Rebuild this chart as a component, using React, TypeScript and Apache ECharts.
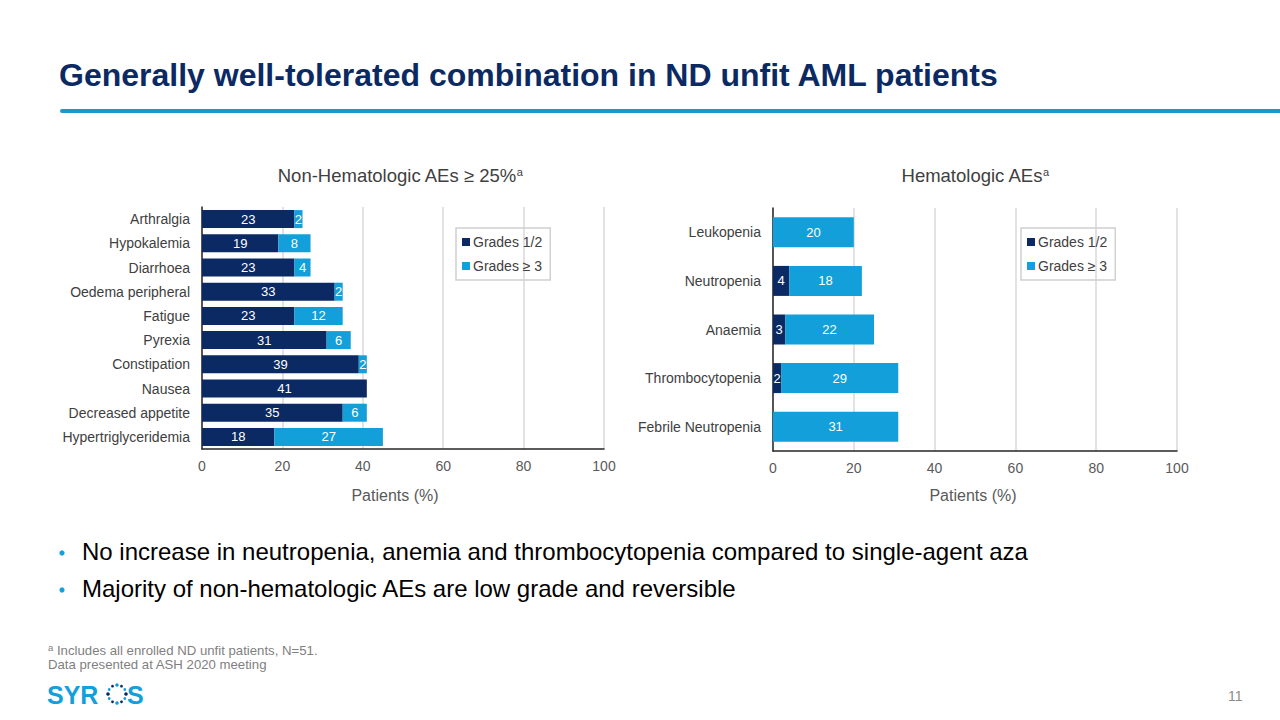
import React, { useEffect, useRef } from "react";
import * as echarts from "echarts";

const NAVY = "#0b2a63";
const BLUE = "#139fd9";

const nonHemCategories = [
  "Arthralgia",
  "Hypokalemia",
  "Diarrhoea",
  "Oedema peripheral",
  "Fatigue",
  "Pyrexia",
  "Constipation",
  "Nausea",
  "Decreased appetite",
  "Hypertriglyceridemia",
];
const nonHemGrade12 = [23, 19, 23, 33, 23, 31, 39, 41, 35, 18];
const nonHemGrade3 = [2, 8, 4, 2, 12, 6, 2, 0, 6, 27];

const hemCategories = [
  "Leukopenia",
  "Neutropenia",
  "Anaemia",
  "Thrombocytopenia",
  "Febrile Neutropenia",
];
const hemGrade12 = [0, 4, 3, 2, 0];
const hemGrade3 = [20, 18, 22, 29, 31];

const xTicks = { min: 0, max: 100, interval: 20 };
const seriesNames = ["Grades 1/2", "Grades \u2265 3"];

const bullets = [
  "No increase in neutropenia, anemia and thrombocytopenia compared to single-agent aza",
  "Majority of non-hematologic AEs are low grade and reversible",
];

const FONT = "'Liberation Sans', Arial, sans-serif";

export default function App() {
  const ref = useRef<HTMLDivElement>(null);

  useEffect(() => {
    if (!ref.current) return;
    const chart = echarts.init(ref.current, undefined, { renderer: "svg" });

    const barLabel = {
      show: true,
      position: "inside",
      color: "#ffffff",
      fontSize: 13,
      fontFamily: FONT,
      formatter: (p: any) => (p.value ? String(p.value) : ""),
    };

    const xAxisBase = (gridIndex: number, nameGap: number, shift: number) => ({
      type: "value",
      gridIndex,
      min: xTicks.min,
      max: xTicks.max,
      interval: xTicks.interval,
      name: "Patients (%)",
      nameLocation: "middle",
      nameGap,
      nameTextStyle: { color: "#595959", fontSize: 16, fontFamily: FONT, padding: [0, shift, 0, 0] },
      axisLine: { show: true, lineStyle: { color: "#262626", width: 1.5 } },
      axisTick: { show: false },
      axisLabel: { color: "#595959", fontSize: 14, margin: 10, fontFamily: FONT },
      splitLine: { show: true, lineStyle: { color: "#d9d9d9", width: 1.5 } },
    });

    const yAxisBase = (gridIndex: number, data: string[]) => ({
      type: "category",
      gridIndex,
      data,
      inverse: true,
      axisLine: { show: true, lineStyle: { color: "#262626", width: 1.5 } },
      axisTick: { show: false },
      axisLabel: { color: "#404040", fontSize: 14, margin: 12, fontFamily: FONT },
    });

    const legendBase = (left: number, top: number) => ({
      orient: "vertical",
      left,
      top,
      data: seriesNames,
      icon: "rect",
      itemWidth: 8,
      itemHeight: 8,
      itemGap: 10,
      padding: [7, 8, 7, 6],
      borderColor: "#d0d0d0",
      borderWidth: 1.5,
      selectedMode: false,
      textStyle: { color: "#404040", fontSize: 14, fontFamily: FONT, padding: [0, 0, 0, -2] },
    });

    const titleRich = {
      sup: { fontSize: 11, color: "#404040", verticalAlign: "top", padding: [0, 0, 8, 0], fontFamily: FONT },
    };

    const logoDots: any[] = [];
    const dotCount = 12;
    for (let i = 0; i < dotCount; i++) {
      const a = (i / dotCount) * Math.PI * 2;
      logoDots.push({
        type: "circle",
        shape: { cx: 117 + Math.cos(a) * 9, cy: 694 + Math.sin(a) * 9, r: i % 3 === 0 ? 1.8 : 1.4 },
        style: { fill: i % 2 === 0 ? NAVY : BLUE },
      });
    }

    chart.setOption({
      animation: false,
      backgroundColor: "#ffffff",
      title: [
        {
          text: "Non-Hematologic AEs \u2265 25%{sup|a}",
          left: 395,
          top: 161,
          textAlign: "center",
          textStyle: { color: "#404040", fontSize: 18.5, fontWeight: "normal", fontFamily: FONT, rich: titleRich },
        },
        {
          text: "Hematologic AEs{sup|a}",
          left: 970,
          top: 161,
          textAlign: "center",
          textStyle: { color: "#404040", fontSize: 18.5, fontWeight: "normal", fontFamily: FONT, rich: titleRich },
        },
      ],
      legend: [legendBase(456, 228), legendBase(1021, 228)],
      grid: [
        { left: 202, top: 207, width: 402, height: 242 },
        { left: 773, top: 208, width: 404, height: 243 },
      ],
      xAxis: [xAxisBase(0, 38, 16), xAxisBase(1, 36, 4)],
      yAxis: [yAxisBase(0, nonHemCategories), yAxisBase(1, hemCategories)],
      series: [
        {
          name: seriesNames[0],
          type: "bar",
          stack: "a",
          xAxisIndex: 0,
          yAxisIndex: 0,
          data: nonHemGrade12,
          barWidth: 18,
          itemStyle: { color: NAVY },
          label: barLabel,
        },
        {
          name: seriesNames[1],
          type: "bar",
          stack: "a",
          xAxisIndex: 0,
          yAxisIndex: 0,
          data: nonHemGrade3,
          barWidth: 18,
          itemStyle: { color: BLUE },
          label: barLabel,
        },
        {
          name: seriesNames[0],
          type: "bar",
          stack: "b",
          xAxisIndex: 1,
          yAxisIndex: 1,
          data: hemGrade12,
          barWidth: 30,
          itemStyle: { color: NAVY },
          label: barLabel,
        },
        {
          name: seriesNames[1],
          type: "bar",
          stack: "b",
          xAxisIndex: 1,
          yAxisIndex: 1,
          data: hemGrade3,
          barWidth: 30,
          itemStyle: { color: BLUE },
          label: barLabel,
        },
      ],
      graphic: [
        {
          type: "text",
          left: 59,
          top: 59,
          style: {
            text: "Generally well-tolerated combination in ND unfit AML patients",
            fill: "#0b2a63",
            font: `bold 32px ${FONT}`,
          },
        },
        {
          type: "line",
          shape: { x1: 62, y1: 111, x2: 1280, y2: 111 },
          style: { stroke: "#1a96d2", lineWidth: 4, lineCap: "round" },
        },
        ...bullets.flatMap((b, i) => [
          {
            type: "circle",
            shape: { cx: 62, cy: 553 + i * 37, r: 2.6 },
            style: { fill: BLUE },
          },
          {
            type: "text",
            left: 82,
            top: 539 + i * 37,
            style: { text: b, fill: "#000000", font: `24px ${FONT}` },
          },
        ]),
        {
          type: "text",
          left: 48,
          top: 642,
          style: {
            text: "{s|a} Includes all enrolled ND unfit patients, N=51.",
            fill: "#7f7f7f",
            font: `13.2px ${FONT}`,
            rich: { s: { fontSize: 9.5, fill: "#7f7f7f", verticalAlign: "top", padding: [0, 0, 6, 0] } } as any,
          },
        },
        {
          type: "text",
          left: 48,
          top: 658,
          style: {
            text: "Data presented at ASH 2020 meeting",
            fill: "#7f7f7f",
            font: `13.2px ${FONT}`,
          },
        },
        {
          type: "text",
          left: 47,
          top: 682,
          style: { text: "SYR", fill: BLUE, font: `bold 25px ${FONT}` },
        },
        ...logoDots,
        {
          type: "text",
          left: 127,
          top: 682,
          style: { text: "S", fill: BLUE, font: `bold 25px ${FONT}` },
        },
        {
          type: "text",
          left: 1228,
          top: 689,
          style: { text: "11", fill: "#8c8c8c", font: `14px ${FONT}` },
        },
      ],
    } as any);

    return () => chart.dispose();
  }, []);

  return (
    <div
      ref={ref}
      style={{ position: "fixed", left: 0, top: 0, width: 1280, height: 720, background: "#fff" }}
    />
  );
}
